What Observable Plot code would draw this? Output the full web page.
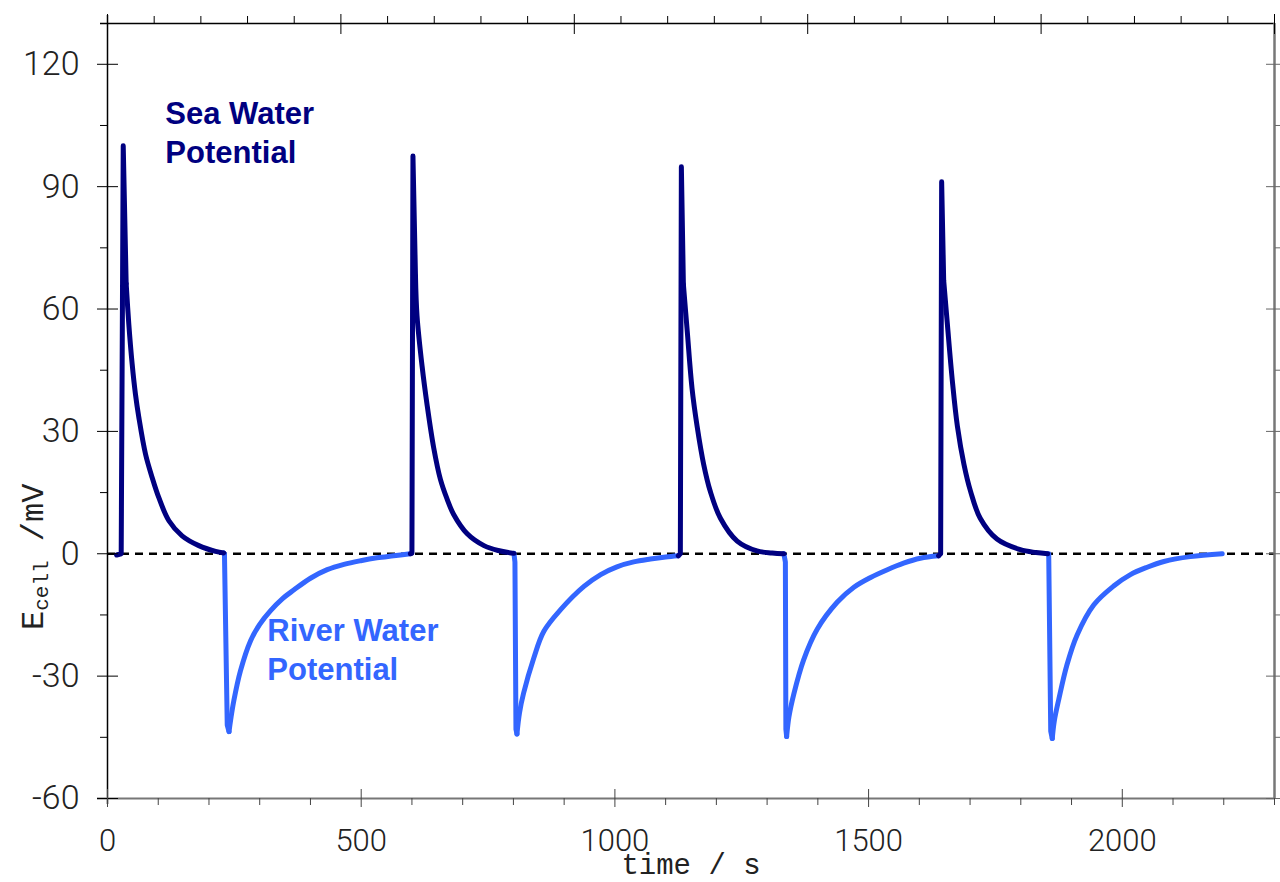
<!DOCTYPE html>
<html><head><meta charset="utf-8">
<script src="https://cdn.jsdelivr.net/npm/d3@7"></script>
<script src="https://cdn.jsdelivr.net/npm/@observablehq/plot@0.6"></script>
<style>body{margin:0;background:#fff} #chart svg{display:block}</style>
</head><body><div id="chart"></div>
<script>
// time (s), E_cell (mV)
const sea1 = [[18,-0.3],[27,0],[31,100],[36.8,66.2],[42,56.3],[48.6,46.5],[55,39.2],[61.8,33.4],[75,24.4],[88,18.7],[101,13.8],[121,8.1],[147,4.4],[180,2.0],[213,0.6],[229,0.2]];
const river1 = [[229,0.2],[230.5,0],[236,-42],[239.5,-43.6],[243,-40.5],[249,-36],[262,-28.7],[282,-21.3],[300,-17.3],[321,-14],[345,-11],[367,-8.9],[400,-6.0],[433,-3.9],[466,-2.6],[499,-1.7],[531,-1.0],[564,-0.5],[597,0]];
const sea2 = [[597,0],[600,0.1],[602,97.5],[607,68],[610,58.4],[620,46],[630,36.4],[643,25.9],[656,18.3],[669,13.5],[682,9.7],[709,4.9],[742,2.0],[770,0.8],[801,0.1]];
const river2 = [[801,0.1],[803,-2],[805,-43],[807,-44.2],[812,-39],[820,-34.2],[840,-25.6],[860,-19],[893,-13.7],[939,-8],[972,-5.1],[1004,-3.2],[1037,-2.0],[1070,-1.3],[1100,-0.8],[1125,-0.5]];
const sea3 = [[1125,-0.5],[1129,0],[1131,94.9],[1135,66],[1142.5,54.7],[1152,40.6],[1162,31.3],[1175,21.9],[1188,15.3],[1208,8.7],[1241,3.1],[1280,0.7],[1310,0.2],[1333,0]];
const river3 = [[1333,0],[1336,-2],[1337,-43],[1338.5,-44.8],[1343,-40],[1352.6,-34.4],[1372,-26],[1398.7,-18.5],[1438,-11.9],[1471,-8.2],[1504,-5.8],[1537,-3.9],[1569,-2.3],[1602,-1.1],[1638,-0.5]];
const sea4 = [[1638,-0.5],[1642,0],[1644,91.2],[1648,67],[1655,56.7],[1665,42.5],[1675,31.3],[1688,21.9],[1701,15.3],[1720,8.7],[1753,3.6],[1799,1.0],[1830,0.3],[1853,0]];
const river4 = [[1853,0],[1855,0],[1859,-43.5],[1862,-45.3],[1866,-41],[1875,-35.6],[1891,-27.2],[1911,-19.9],[1944,-12.5],[1983,-7.9],[2016,-5.1],[2049,-3.3],[2082,-1.9],[2134,-0.7],[2197,0]];

const seaCycles = [sea1, sea2, sea3, sea4];
const riverCycles = [river1, river2, river3, river4];

const xDomain = [0, 2300];
const yDomain = [-60, 130];
const yMajorTicks = [-60, -30, 0, 30, 60, 90, 120];
const yMinorTicks = [-45, -15, 15, 45, 75, 105];
const xMajorTicks = [0, 500, 1000, 1500, 2000];
const xMinorTicks = [100,200,300,400,600,700,800,900,1100,1200,1300,1400,1600,1700,1800,1900,2100,2200,2300];
const topMajorTicks = [0, 460, 920, 1380, 1840, 2300];
const topMinorTicks = [92,184,276,368,552,644,736,828,1012,1104,1196,1288,1472,1564,1656,1748,1932,2024,2116,2208];

const seaLabel = [{name: "Sea Water\nPotential", t: 114, v: 103.6}];
const riverLabel = [{name: "River Water\nPotential", t: 315, v: -23.1}];
const xTitle = "time / s";
const yTitleMain = "E", yTitleSub = "cell", yTitleUnit = " /mV";

const seaColor = "#000080";
const riverColor = "#3366ff";

// each cycle: the jump (first 4 points, straight) and the relaxation (from point 4 on, smooth)
const jumpPart = (cycles, name) => cycles.flatMap((c, i) => c.slice(0, 4).map(([t, v]) => ({t, v, cycle: name + i})));
const relaxPart = (cycles, name) => cycles.flatMap((c, i) => c.slice(3).map(([t, v]) => ({t, v, cycle: name + i})));

const monoFont = "'Liberation Mono','Courier New',monospace";
const tickFont = "Roboto,'Liberation Sans',sans-serif";
const sansFont = "Arial,'Liberation Sans',sans-serif";

const lineStyle = {x: "t", y: "v", z: "cycle", strokeWidth: 5};

const plot = Plot.plot({
  width: 1280,
  height: 882,
  marginLeft: 107,
  marginRight: 6,
  marginTop: 23,
  marginBottom: 84,
  x: {domain: xDomain},
  y: {domain: yDomain},
  style: {background: "#fff", color: "#111"},
  marks: [
    Plot.ruleY([0], {stroke: "#000", strokeWidth: 2.5, strokeDasharray: "8,6"}),
    Plot.line(jumpPart(riverCycles, "river"), {...lineStyle, stroke: riverColor, curve: "linear"}),
    Plot.line(relaxPart(riverCycles, "river"), {...lineStyle, stroke: riverColor, curve: "catmull-rom"}),
    Plot.line(jumpPart(seaCycles, "sea"), {...lineStyle, stroke: seaColor, curve: "linear"}),
    Plot.line(relaxPart(seaCycles, "sea"), {...lineStyle, stroke: seaColor, curve: "catmull-rom"}),
    // frame
    Plot.ruleX([xDomain[0]], {stroke: "#000", strokeWidth: 1.5, insetTop: -8, insetBottom: -6}),
    Plot.ruleY([yDomain[1]], {stroke: "#000", strokeWidth: 1.5, insetLeft: -7}),
    Plot.ruleY([yDomain[0]], {stroke: "#777", strokeWidth: 2, insetLeft: -10}),
    Plot.ruleX([xDomain[1]], {stroke: "#777", strokeWidth: 2.5}),
    // left axis
    Plot.axisY(yMajorTicks, {anchor: "left", tickSize: 21, insetLeft: 11, tickPadding: 18, fontSize: 34, fontFamily: tickFont, fontWeight: 300, letterSpacing: "3px", stroke: "#000", fill: "#222", label: null, tickFormat: d => String(d)}),
    Plot.axisY(yMinorTicks, {anchor: "left", tickSize: 7, stroke: "#000", fill: "none", label: null}),
    // right axis
    Plot.axisY(yMajorTicks, {anchor: "right", tickSize: 15, insetRight: 9, stroke: "#666", fill: "none", label: null}),
    Plot.axisY(yMinorTicks, {anchor: "right", tickSize: 6, stroke: "#666", fill: "none", label: null}),
    // bottom axis
    Plot.axisX(xMajorTicks, {anchor: "bottom", tickSize: 18, insetBottom: 9, tickPadding: 21, fontSize: 31, fontFamily: tickFont, fontWeight: 300, letterSpacing: "2px", stroke: "#444", fill: "#222", label: null, tickFormat: d => String(d)}),
    Plot.axisX(xMinorTicks, {anchor: "bottom", tickSize: 7, stroke: "#444", fill: "none", label: null}),
    // top axis
    Plot.axisX(topMajorTicks, {anchor: "top", tickSize: 20, insetTop: 10, stroke: "#000", fill: "none", label: null}),
    Plot.axisX(topMinorTicks, {anchor: "top", tickSize: 8, stroke: "#000", fill: "none", label: null}),
    // annotations
    Plot.text(seaLabel, {x: "t", y: "v", text: "name", textAnchor: "start", lineAnchor: "middle", lineHeight: 1.26, fontSize: 31, fontWeight: "bold", fontFamily: sansFont, fill: seaColor}),
    Plot.text(riverLabel, {x: "t", y: "v", text: "name", textAnchor: "start", lineAnchor: "middle", lineHeight: 1.24, fontSize: 31, fontWeight: "bold", fontFamily: sansFont, fill: riverColor}),
    Plot.text([xTitle], {text: d => d, frameAnchor: "bottom", dy: 66, lineAnchor: "middle", fontSize: 29, fontFamily: monoFont, fill: "#222"})
  ]
});

document.getElementById("chart").appendChild(plot);

// y-axis title with subscript
const svg = d3.select(plot.tagName.toLowerCase() === "svg" ? plot : plot.querySelector("svg"));
const yt = svg.append("text")
  .attr("transform", "translate(43,630) rotate(-90)")
  .attr("text-anchor", "start")
  .attr("font-family", monoFont)
  .attr("fill", "#222");
yt.append("tspan").attr("font-size", 32).text(yTitleMain);
yt.append("tspan").attr("font-size", 21).attr("dy", 5).text(yTitleSub);
yt.append("tspan").attr("font-size", 32).attr("dy", -5).style("white-space", "pre").text(yTitleUnit);
</script>
</body></html>
